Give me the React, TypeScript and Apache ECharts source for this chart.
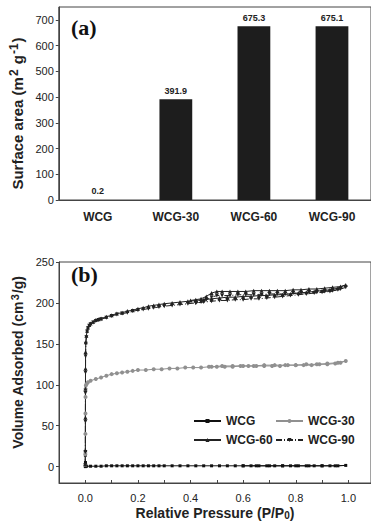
import React, { useEffect, useRef } from "react";
import * as echarts from "echarts";

const barCategories = ["WCG", "WCG-30", "WCG-60", "WCG-90"];
const surfaceArea = [0.2, 391.9, 675.3, 675.1];
const barYTicks = [0, 100, 200, 300, 400, 500, 600, 700];

const pressureTicks = [0, 0.2, 0.4, 0.6, 0.8, 1.0];
const pressureMinorTicks = [-0.1, 0, 0.1, 0.2, 0.3, 0.4, 0.5, 0.6, 0.7, 0.8, 0.9, 1.0];
const volumeTicks = [0, 50, 100, 150, 200, 250];

const wcg: number[][] = [
  [0, 0], [0.0003, 14], [0.0006, 5], [0.001, 1], [0.005, 0.5], [0.02, 0.5], [0.04, 0.5], [0.06, 0.5],
  [0.08, 1], [0.1, 1], [0.12, 1], [0.14, 1], [0.16, 1], [0.18, 1], [0.2, 1], [0.22, 1], [0.24, 1],
  [0.26, 1], [0.28, 1], [0.3, 1], [0.33, 1], [0.36, 1], [0.39, 1], [0.42, 1], [0.45, 1], [0.48, 1],
  [0.51, 1], [0.54, 1], [0.57, 1], [0.6, 1], [0.63, 1], [0.66, 1], [0.69, 1], [0.72, 1], [0.75, 1],
  [0.78, 1], [0.81, 1], [0.84, 1], [0.87, 1], [0.9, 1], [0.93, 1], [0.96, 1], [0.99, 1.5],
  [0.95, 1], [0.9, 1], [0.85, 1], [0.8, 1], [0.75, 1], [0.7, 1], [0.65, 1], [0.6, 1],
];

const wcg30: number[][] = [
  [0, 2], [0.0002, 15], [0.0004, 40], [0.0006, 65], [0.0008, 85], [0.001, 95], [0.002, 99], [0.005, 101],
  [0.01, 103], [0.02, 105], [0.04, 107], [0.06, 109], [0.08, 111], [0.1, 113], [0.12, 114], [0.14, 115],
  [0.16, 116], [0.18, 117], [0.2, 118], [0.23, 118], [0.26, 119], [0.29, 119], [0.32, 120], [0.35, 120],
  [0.38, 121], [0.41, 121], [0.44, 121], [0.47, 122], [0.5, 122], [0.53, 122], [0.56, 122], [0.59, 123],
  [0.62, 123], [0.65, 123], [0.68, 123], [0.71, 123], [0.74, 123], [0.77, 124], [0.8, 124], [0.83, 124],
  [0.86, 124], [0.89, 125], [0.92, 125], [0.95, 126], [0.97, 127], [0.99, 129],
  [0.96, 127], [0.92, 126], [0.88, 125], [0.84, 125], [0.8, 124], [0.76, 124], [0.72, 124], [0.68, 124],
  [0.64, 123], [0.6, 123], [0.56, 123], [0.52, 123], [0.48, 122],
];

const wcg60: number[][] = [
  [0, 3], [0.0002, 20], [0.0004, 60], [0.0006, 95], [0.0008, 120], [0.001, 140], [0.002, 152], [0.004, 160],
  [0.007, 166], [0.01, 170], [0.015, 173], [0.02, 175], [0.03, 177], [0.04, 179], [0.05, 180], [0.06, 181],
  [0.08, 183], [0.1, 185], [0.12, 187], [0.14, 188], [0.16, 190], [0.18, 191], [0.2, 193], [0.22, 194],
  [0.24, 196], [0.26, 197], [0.28, 198], [0.3, 199], [0.33, 200], [0.36, 201], [0.39, 202], [0.42, 203],
  [0.45, 204], [0.48, 205], [0.51, 206], [0.54, 207], [0.57, 207], [0.6, 208], [0.63, 208], [0.66, 209],
  [0.69, 209], [0.72, 210], [0.75, 210], [0.78, 211], [0.81, 212], [0.84, 213], [0.87, 214], [0.9, 215],
  [0.93, 216], [0.96, 218], [0.99, 222],
  [0.97, 220], [0.94, 219], [0.91, 218], [0.88, 217], [0.85, 217], [0.82, 216], [0.79, 216], [0.76, 215],
  [0.73, 215], [0.7, 215], [0.67, 215], [0.64, 215], [0.61, 214], [0.58, 214], [0.55, 214], [0.52, 214],
  [0.5, 214], [0.48, 212], [0.46, 208], [0.44, 205], [0.42, 204], [0.4, 203],
];

const wcg90: number[][] = [
  [0, 2], [0.0002, 18], [0.0004, 55], [0.0006, 90], [0.0008, 115], [0.001, 135], [0.002, 150], [0.004, 158],
  [0.007, 165], [0.01, 169], [0.015, 172], [0.02, 174], [0.03, 176], [0.04, 178], [0.05, 179], [0.06, 180],
  [0.08, 182], [0.1, 184], [0.12, 186], [0.14, 187], [0.16, 188], [0.18, 190], [0.2, 191], [0.22, 192],
  [0.24, 193], [0.26, 194], [0.28, 195], [0.3, 196], [0.33, 197], [0.36, 198], [0.39, 199], [0.42, 200],
  [0.45, 201], [0.48, 202], [0.51, 203], [0.54, 203], [0.57, 204], [0.6, 204], [0.63, 205], [0.66, 205],
  [0.69, 206], [0.72, 207], [0.75, 208], [0.78, 209], [0.81, 210], [0.84, 211], [0.87, 212], [0.9, 213],
  [0.93, 214], [0.96, 216], [0.99, 219],
  [0.97, 217], [0.94, 215], [0.91, 214], [0.88, 213], [0.85, 213], [0.82, 212], [0.79, 212], [0.76, 211],
  [0.73, 211], [0.7, 211], [0.67, 210], [0.64, 210], [0.61, 210], [0.58, 210], [0.55, 209], [0.52, 209],
  [0.5, 209], [0.48, 207], [0.46, 204], [0.44, 201], [0.42, 200],
];

const SANS = "'Liberation Sans', Arial, sans-serif";
const SERIF = "'Liberation Serif', 'Times New Roman', serif";

export default function App() {
  const ref = useRef<HTMLDivElement>(null);
  useEffect(() => {
    if (!ref.current) return;
    const chart = echarts.init(ref.current, null, { renderer: "svg" });
    const axisText = { color: "#222", fontFamily: SANS, fontSize: 11 };
    const titleStyle = (size: number) => ({
      color: "#222",
      fontFamily: SANS,
      fontSize: size,
      fontWeight: "bold",
      rich: {
        sup: { fontFamily: SANS, fontSize: size - 3, fontWeight: "bold", color: "#222", verticalAlign: "top", padding: [0, 1, 6, 1] },
        sub: { fontFamily: SANS, fontSize: size - 4, fontWeight: "bold", color: "#222", verticalAlign: "bottom", padding: [4, 0, 0, 0] },
      },
    });
    const lineSeries = (name: string, data: number[][], symbol: string, color: string, lineType: any, size: number) => ({
      name,
      type: "line",
      xAxisIndex: 1,
      yAxisIndex: 1,
      data,
      symbol,
      symbolSize: size,
      showSymbol: true,
      lineStyle: { color, width: 1, type: lineType },
      itemStyle: { color },
      z: 3,
    });
    const legendText = { color: "#222", fontFamily: SANS, fontSize: 12, fontWeight: "bold", padding: [0, 0, 0, 0] };
    chart.setOption({
      animation: false,
      backgroundColor: "#fff",
      grid: [
        { left: 56, top: 7, right: 0, height: 193, show: true, borderColor: "#444", borderWidth: 1 },
        { left: 59, top: 262, right: 0, height: 221, show: true, borderColor: "#444", borderWidth: 1 },
      ],
      xAxis: [
        {
          type: "category",
          gridIndex: 0,
          data: barCategories,
          axisLine: { lineStyle: { color: "#444" } },
          axisTick: { show: false },
          axisLabel: { ...axisText, fontSize: 12, fontWeight: "bold", margin: 11 },
        },
        {
          type: "value",
          gridIndex: 1,
          min: -0.1,
          max: 1.086,
          splitLine: { show: false },
          axisLine: { onZero: false, lineStyle: { color: "#444" } },
          axisTick: { inside: true, length: 3, customValues: pressureMinorTicks, lineStyle: { color: "#444" } },
          axisLabel: { ...axisText, margin: 9, customValues: pressureTicks, formatter: (v: number) => v.toFixed(1) },
          name: "Relative Pressure (P/P{sub|0})",
          nameLocation: "middle",
          nameGap: 23,
          nameTextStyle: titleStyle(14),
        },
      ],
      yAxis: [
        {
          type: "value",
          gridIndex: 0,
          min: 0,
          max: 750,
          splitLine: { show: false },
          axisLine: { show: true, lineStyle: { color: "#444" } },
          axisTick: { show: true, length: 3, customValues: barYTicks, lineStyle: { color: "#444" } },
          axisLabel: { ...axisText, margin: 5, customValues: barYTicks },
          name: "Surface area (m{sup|2} g{sup|-1})",
          nameLocation: "middle",
          nameGap: 31,
          nameTextStyle: { ...titleStyle(15), padding: [0, 20, 0, 0] },
        },
        {
          type: "value",
          gridIndex: 1,
          min: -20,
          max: 250,
          splitLine: { show: false },
          axisLine: { show: true, onZero: false, lineStyle: { color: "#444" } },
          axisTick: { show: true, length: 3, customValues: volumeTicks, lineStyle: { color: "#444" } },
          axisLabel: { ...axisText, margin: 5, customValues: volumeTicks },
          name: "Volume Adsorbed (cm{sup|3}/g)",
          nameLocation: "middle",
          nameGap: 31,
          nameTextStyle: { ...titleStyle(14), padding: [0, 0, 0, 20] },
        },
      ],
      legend: [
        {
          data: ["WCG", "WCG-60"],
          orient: "vertical",
          left: 188,
          top: 410,
          itemWidth: 27,
          itemHeight: 5,
          itemGap: 7,
          textStyle: legendText,
        },
        {
          data: ["WCG-30", "WCG-90"],
          orient: "vertical",
          left: 270,
          top: 410,
          itemWidth: 27,
          itemHeight: 5,
          itemGap: 7,
          textStyle: legendText,
        },
      ],
      graphic: [
        { type: "text", left: 71, top: 16, style: { text: "(a)", font: `bold 22px ${SERIF}`, fill: "#111" } },
        { type: "text", left: 71, top: 263, style: { text: "(b)", font: `bold 22px ${SERIF}`, fill: "#111" } },
      ],
      series: [
        {
          type: "bar",
          xAxisIndex: 0,
          yAxisIndex: 0,
          data: surfaceArea,
          barWidth: "42%",
          itemStyle: { color: "#1d1d1d" },
          label: {
            show: true,
            position: "top",
            distance: 4,
            color: "#222",
            fontFamily: SANS,
            fontSize: 9,
            fontWeight: "bold",
            formatter: (p: any) => String(p.value),
          },
        },
        lineSeries("WCG", wcg, "rect", "#111", "solid", 3),
        lineSeries("WCG-30", wcg30, "circle", "#909090", "solid", 4),
        lineSeries("WCG-60", wcg60, "triangle", "#222", "solid", 4),
        lineSeries("WCG-90", wcg90, "path://M0,0 L10,0 L5,10 Z", "#222", [6, 2, 1, 2], 4),
      ],
    });
    return () => chart.dispose();
  }, []);
  return <div ref={ref} style={{ position: "fixed", left: 0, top: 0, width: 371, height: 527 }} />;
}
